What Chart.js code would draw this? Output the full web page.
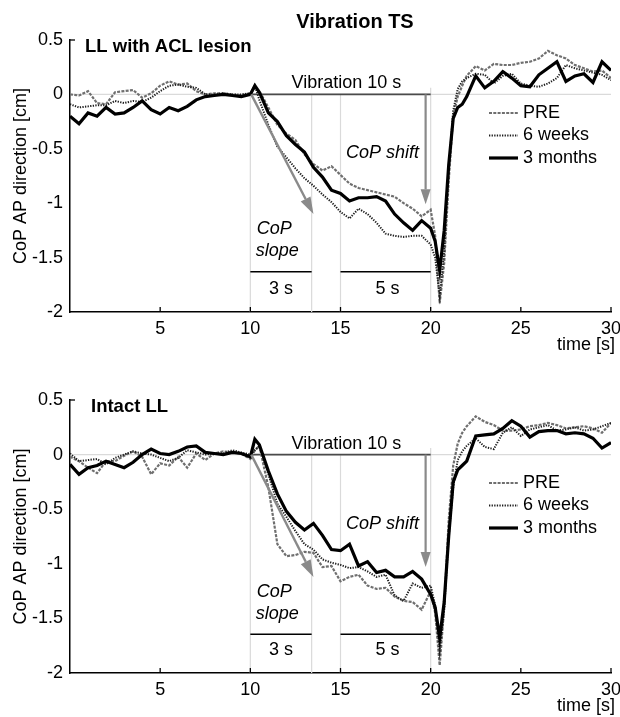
<!DOCTYPE html>
<html><head><meta charset="utf-8">
<script src="https://cdn.jsdelivr.net/npm/chart.js@4.4.1/dist/chart.umd.min.js"></script>
<style>html,body{margin:0;padding:0;background:#fff;}canvas{display:block;}</style>
</head><body>
<canvas id="c1" width="620" height="360"></canvas>
<canvas id="c2" width="620" height="357"></canvas>
<script>
// ---------- DATA ----------
const T = [0,0.5,1,1.5,2,2.5,3,3.5,4,4.5,5,5.5,6,6.5,7,7.5,8,8.5,9,9.5,10,10.25,10.5,11,11.5,12,12.5,13,13.5,14,14.5,15,15.5,16,16.5,17,17.5,18,18.5,19,19.5,20,20.25,20.5,20.75,21,21.25,21.5,21.75,22,22.5,23,23.5,24,24.5,25,25.5,26,26.5,27,27.5,28,28.5,29,29.5,30];

const SERIES = ['PRE', '6 weeks', '3 months'];
const X_TICKS = [5, 10, 15, 20, 25, 30];
const Y_TICKS = [0.5, 0, -0.5, -1, -1.5, -2];

// Upper panel: LL with ACL lesion
const ACL_PRE = [0.00,-0.01,0.03,-0.08,-0.09,0.02,0.03,0.04,-0.03,0.01,0.08,0.12,0.09,0.10,0.03,0.00,0.01,0.01,0.00,-0.01,0.01,0.06,0.03,-0.12,-0.28,-0.36,-0.42,-0.55,-0.64,-0.70,-0.66,-0.74,-0.82,-0.86,-0.88,-0.90,-0.92,-0.94,-1.00,-1.05,-1.12,-1.06,-1.30,-1.92,-1.55,-0.80,-0.20,-0.02,0.08,0.17,0.26,0.22,0.28,0.27,0.27,0.29,0.30,0.33,0.40,0.36,0.33,0.27,0.24,0.21,0.22,0.15];
const ACL_6W = [-0.09,-0.12,-0.11,-0.10,-0.10,-0.06,-0.08,-0.06,-0.07,-0.03,0.03,0.08,0.09,0.07,0.06,0.00,0.00,0.01,0.00,0.00,0.01,0.08,-0.05,-0.28,-0.48,-0.58,-0.68,-0.77,-0.84,-0.92,-0.99,-1.08,-1.14,-1.05,-1.10,-1.18,-1.28,-1.30,-1.31,-1.30,-1.30,-1.38,-1.50,-1.85,-1.45,-0.70,-0.15,0.05,0.12,0.15,0.19,0.18,0.10,0.17,0.19,0.10,0.08,0.07,0.10,0.15,0.27,0.24,0.22,0.20,0.18,0.13];
const ACL_3M = [-0.20,-0.27,-0.17,-0.20,-0.12,-0.18,-0.17,-0.12,-0.06,-0.14,-0.18,-0.12,-0.15,-0.11,-0.05,-0.02,-0.01,0.00,-0.01,-0.02,0.00,0.08,0.02,-0.17,-0.25,-0.38,-0.46,-0.53,-0.67,-0.76,-0.88,-0.91,-0.98,-0.95,-0.95,-0.94,-0.98,-1.10,-1.18,-1.25,-1.16,-1.23,-1.35,-1.62,-1.25,-0.65,-0.22,-0.12,-0.09,-0.02,0.17,0.06,0.12,0.21,0.15,0.08,0.07,0.18,0.24,0.30,0.12,0.17,0.19,0.11,0.30,0.22];

// Lower panel: Intact LL
const INT_PRE = [-0.02,-0.06,-0.12,-0.17,-0.06,-0.06,-0.01,0.03,-0.02,-0.18,-0.08,-0.10,-0.02,-0.12,0.01,-0.05,0.01,0.03,0.02,0.01,-0.04,0.04,0.08,-0.30,-0.82,-0.93,-0.92,-0.89,-0.90,-1.03,-1.02,-1.16,-1.12,-1.10,-1.20,-1.23,-1.22,-1.30,-1.34,-1.35,-1.42,-1.25,-1.45,-1.93,-1.40,-0.60,-0.10,0.10,0.20,0.26,0.35,0.30,0.27,0.22,0.22,0.23,0.26,0.27,0.29,0.27,0.24,0.25,0.26,0.24,0.20,0.29];
const INT_6W = [0.01,-0.06,-0.05,-0.04,-0.09,-0.03,0.00,0.03,0.01,0.00,-0.03,-0.06,-0.03,0.04,0.02,0.00,0.01,0.01,0.04,0.02,0.00,0.04,0.08,-0.18,-0.45,-0.57,-0.70,-0.82,-0.87,-0.96,-0.99,-1.01,-1.04,-1.03,-1.07,-1.12,-1.10,-1.29,-1.34,-1.18,-1.22,-1.20,-1.38,-1.80,-1.42,-0.75,-0.30,-0.05,0.03,0.08,0.15,0.07,0.05,0.20,0.25,0.17,0.23,0.25,0.27,0.22,0.23,0.25,0.22,0.23,0.26,0.29];
const INT_3M = [-0.09,-0.18,-0.12,-0.10,-0.06,-0.09,-0.12,-0.07,0.00,0.05,0.01,0.00,0.03,0.07,0.08,0.02,0.01,0.00,0.02,0.01,-0.02,0.14,0.09,-0.15,-0.36,-0.52,-0.62,-0.69,-0.63,-0.74,-0.87,-0.88,-0.82,-1.02,-0.98,-1.08,-1.06,-1.12,-1.12,-1.07,-1.14,-1.28,-1.40,-1.68,-1.35,-0.75,-0.25,-0.14,-0.10,-0.06,0.17,0.18,0.19,0.24,0.31,0.26,0.16,0.21,0.22,0.22,0.19,0.20,0.19,0.15,0.06,0.11];

// ---------- STYLE ----------
const FONT = '"Liberation Sans", Arial, Helvetica, sans-serif';
const STYLES = [
  {color:'#6f6f6f', dash:[3,1.3], width:2.2},
  {color:'#1e1e1e', dash:[1.3,1.3], width:2.0},
  {color:'#000000', dash:[], width:3.2}
];

function seg(ctx, x1, y1, x2, y2, color, w) {
  ctx.beginPath(); ctx.strokeStyle = color; ctx.lineWidth = w; ctx.setLineDash([]);
  ctx.moveTo(x1, y1); ctx.lineTo(x2, y2); ctx.stroke();
}
function arrow(ctx, x1, y1, x2, y2, color, w, hl, hw) {
  const a = Math.atan2(y2 - y1, x2 - x1);
  const bx = x2 - hl * Math.cos(a), by = y2 - hl * Math.sin(a);
  seg(ctx, x1, y1, bx, by, color, w);
  ctx.beginPath(); ctx.fillStyle = color;
  ctx.moveTo(x2, y2);
  ctx.lineTo(bx + hw / 2 * Math.sin(a), by - hw / 2 * Math.cos(a));
  ctx.lineTo(bx - hw / 2 * Math.sin(a), by + hw / 2 * Math.cos(a));
  ctx.closePath(); ctx.fill();
}
function txt(ctx, s, x, y, font, align) {
  ctx.font = font; ctx.fillStyle = '#000'; ctx.textAlign = align || 'left'; ctx.textBaseline = 'middle';
  ctx.fillText(s, x, y);
}

const annotPlugin = {
  id: 'annot',
  beforeDatasetsDraw(chart, args, o) {
    const {ctx, scales: {x, y}} = chart;
    const X = v => x.getPixelForValue(v), Y = v => y.getPixelForValue(v);
    ctx.save();
    seg(ctx, X(0), Y(0), X(30), Y(0), '#dadada', 1.2);
    [10, 13.4, 15].forEach(v => seg(ctx, X(v), Y(0), X(v), Y(-2), '#dadada', 1.2));
    seg(ctx, X(20), Y(0.06), X(20), Y(-2), '#dadada', 1.2);
    seg(ctx, X(10), Y(0), X(20), Y(0), '#4a4a4a', 1.6);
    seg(ctx, X(10), Y(o.barY), X(13.4), Y(o.barY), '#000', 1.3);
    seg(ctx, X(15), Y(o.barY), X(20), Y(o.barY), '#000', 1.3);
    ctx.restore();
  },
  afterDatasetsDraw(chart, args, o) {
    const {ctx, chartArea: a, scales: {x, y}} = chart;
    const X = v => x.getPixelForValue(v), Y = v => y.getPixelForValue(v);
    ctx.save();
    arrow(ctx, X(10.05), Y(0), X(13.5), Y(o.slopeTip), '#8a8a8a', 2.4, 17, 11);
    arrow(ctx, X(19.72), Y(0), X(19.72), Y(o.shiftTip), '#8a8a8a', 2.2, 15, 10);
    const f = '18px ' + FONT, fi = 'italic 18px ' + FONT;
    txt(ctx, 'Vibration 10 s', X(15.33), Y(0.1), f, 'center');
    txt(ctx, 'CoP shift', X(17.33), Y(o.shiftY), fi, 'center');
    txt(ctx, 'CoP', X(10.35), Y(o.copY), fi, 'left');
    txt(ctx, 'slope', X(10.3), Y(o.copY - 0.2), fi, 'left');
    txt(ctx, '3 s', X(11.7), Y(-1.79), f, 'center');
    txt(ctx, '5 s', X(17.6), Y(-1.79), f, 'center');
    // inward tick marks
    X_TICKS.forEach(v => seg(ctx, X(v), a.bottom, X(v), a.bottom - 5, '#000', 1.3));
    seg(ctx, a.left, Y(0.5), a.left + 5, Y(0.5), '#000', 1.3);
    // legend
    chart.data.datasets.forEach((d, i) => {
      const ly = o.legendY + i * 22.5;
      ctx.beginPath(); ctx.strokeStyle = d.borderColor; ctx.lineWidth = d.borderWidth;
      ctx.setLineDash(d.borderDash); ctx.moveTo(489, ly); ctx.lineTo(518, ly); ctx.stroke();
      ctx.setLineDash([]);
      txt(ctx, d.label, 523, ly, f, 'left');
    });
    // titles
    if (o.title) txt(ctx, o.title, 355, 22, 'bold 20px ' + FONT, 'center');
    txt(ctx, o.panel, o.panelX, 47, 'bold 18.5px ' + FONT, 'left');
    txt(ctx, 'time [s]', 615, a.bottom + 33, f, 'right');
    ctx.save();
    ctx.translate(21, (a.top + a.bottom) / 2); ctx.rotate(-Math.PI / 2);
    txt(ctx, 'CoP AP direction [cm]', 0, 0, f, 'center');
    ctx.restore();
    ctx.restore();
  }
};

function makeChart(id, values, xHeight, opts) {
  const datasets = values.map((vals, i) => ({
    label: SERIES[i],
    data: T.map((t, k) => ({x: t, y: vals[k]})),
    borderColor: STYLES[i].color,
    borderDash: STYLES[i].dash,
    borderWidth: STYLES[i].width,
    pointRadius: 0,
    tension: 0,
    fill: false,
    order: 3 - i
  }));
  return new Chart(document.getElementById(id), {
    type: 'line',
    data: {datasets},
    plugins: [annotPlugin],
    options: {
      responsive: false,
      animation: false,
      events: [],
      layout: {padding: {top: 40, right: 9, left: 0, bottom: 0}},
      plugins: {legend: {display: false}, tooltip: {enabled: false}, annot: opts},
      scales: {
        x: {
          type: 'linear', min: 0, max: 30,
          grid: {display: false, drawTicks: false},
          border: {display: true, color: '#000', width: 1.5},
          afterBuildTicks: s => { s.ticks = X_TICKS.map(v => ({value: v})); },
          afterFit: s => { s.height = xHeight; s.paddingLeft = 0; s.paddingRight = 0; },
          ticks: {color: '#000', padding: 6, font: {family: FONT, size: 18}, maxRotation: 0, callback: v => String(v)}
        },
        y: {
          type: 'linear', min: -2, max: 0.5,
          grid: {display: false, drawTicks: false},
          border: {display: true, color: '#000', width: 1.5},
          afterBuildTicks: s => { s.ticks = Y_TICKS.map(v => ({value: v})); },
          afterFit: s => { s.width = 70; s.paddingTop = 0; s.paddingBottom = 0; },
          ticks: {color: '#000', padding: 7, font: {family: FONT, size: 18}, callback: v => String(v)}
        }
      }
    }
  });
}

makeChart('c1', [ACL_PRE, ACL_6W, ACL_3M], 48, {
  title: 'Vibration TS', panel: 'LL with ACL lesion', panelX: 85,
  barY: -1.63, slopeTip: -1.1, shiftTip: -1.01, shiftY: -0.54, copY: -1.24, legendY: 113
});
makeChart('c2', [INT_PRE, INT_6W, INT_3M], 44, {
  title: null, panel: 'Intact LL', panelX: 91,
  barY: -1.645, slopeTip: -1.12, shiftTip: -1.03, shiftY: -0.64, copY: -1.26, legendY: 123
});
</script>
</body></html>
